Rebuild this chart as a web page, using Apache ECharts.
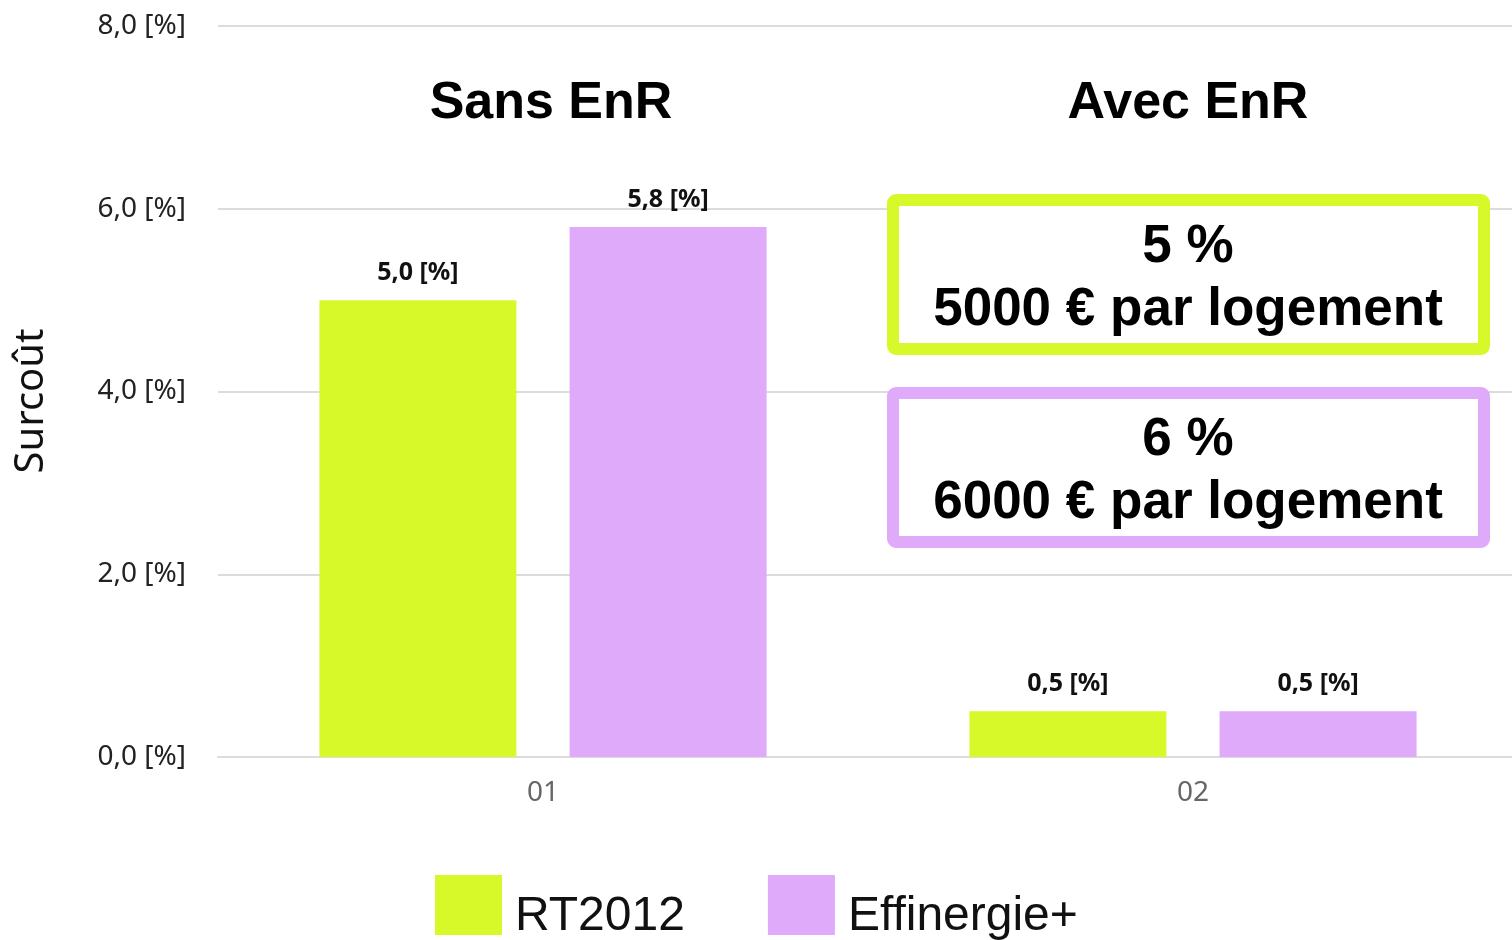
<!DOCTYPE html>
<html>
<head>
<meta charset="utf-8">
<title>Surcoût</title>
<script src="https://cdn.jsdelivr.net/npm/echarts@6/dist/echarts.min.js"></script>
<style>
  html, body { margin: 0; padding: 0; background: #fff; }
  #chart { width: 1512px; height: 940px; }
</style>
</head>
<body>
<div id="chart"></div>
<script>
const categories = ['01', '02']
const rt2012 = [5.0, 0.5]
const effinergie = [5.8, 0.5]
const yTicks = [0, 2, 4, 6, 8]
const groupTitles = ['Sans EnR', 'Avec EnR']
const boxLines = [
    ['5 %', '5000 € par logement'],
    ['6 %', '6000 € par logement']
]

const green = '#d7f92a'
const purple = '#dfaaf9'
const fmt = v => v.toFixed(1).replace('.', ',') + ' [%]'

const chart = echarts.init(document.getElementById('chart'))

const labelStyle = {
    show: true,
    position: 'top',
    distance: 15,
    fontFamily: 'Noto Sans',
    fontWeight: 'bold',
    fontSize: 25,
    color: '#111',
    formatter: p => fmt(p.value)
}

const boxes = boxLines.map((lines, i) => {
    const y = 200 + i * 193
    const col = i === 0 ? green : purple
    return [
        {
            type: 'rect',
            shape: { x: 893, y: y, width: 591, height: 149, r: 3 },
            style: { fill: '#fff', stroke: col, lineWidth: 12 },
            z: 100
        },
        {
            type: 'text',
            x: 1188, y: y + 47,
            style: {
                text: lines[0], fontFamily: 'Liberation Sans', fontWeight: 'bold',
                fontSize: 53, fill: '#000', align: 'center', verticalAlign: 'middle'
            },
            z: 101
        },
        {
            type: 'text',
            x: 1188, y: y + 110,
            style: {
                text: lines[1], fontFamily: 'Liberation Sans', fontWeight: 'bold',
                fontSize: 53, fill: '#000', align: 'center', verticalAlign: 'middle'
            },
            z: 101
        }
    ]
}).flat()

const titles = groupTitles.map((t, i) => ({
    type: 'text',
    x: i === 0 ? 551 : 1188,
    y: 104,
    style: {
        text: t, fontFamily: 'Liberation Sans', fontWeight: 'bold',
        fontSize: 52, fill: '#000', align: 'center', verticalAlign: 'middle'
    }
}))

// y axis name, drawn by hand so it sits where the original had it
const yName = {
    type: 'text',
    x: 32,
    y: 401,
    rotation: Math.PI / 2,
    style: {
        text: 'Surcoût', fontFamily: 'Noto Sans', fontSize: 40, fill: '#111',
        align: 'center', verticalAlign: 'middle'
    }
}

const option = {
    animation: false,
    grid: { left: 218, top: 26, width: 1300, height: 731, outerBoundsMode: 'none' },
    legend: {
        left: 435,
        top: 875,
        padding: 0,
        itemWidth: 67,
        itemHeight: 60,
        itemGap: 83,
        icon: 'rect',
        // spacer token pushes the name down a bit, like in the original
        formatter: name => '{s|}{t|' + name + '}',
        textStyle: {
            rich: {
                s: { width: 0, height: 71 },
                t: {
                    fontFamily: 'Liberation Sans',
                    fontSize: 48,
                    color: '#111',
                    padding: [0, 0, 0, 8],
                    verticalAlign: 'bottom'
                }
            }
        },
        data: ['RT2012', 'Effinergie+']
    },
    xAxis: {
        type: 'category',
        data: categories,
        axisLine: { lineStyle: { color: '#dcdcdc', width: 2 } },
        axisTick: { show: false },
        axisLabel: {
            margin: 22,
            fontFamily: 'Noto Sans',
            fontSize: 28,
            color: '#666'
        }
    },
    yAxis: {
        type: 'value',
        min: yTicks[0],
        max: yTicks[yTicks.length - 1],
        interval: 2,
        axisLine: { show: false },
        axisTick: { show: false },
        splitLine: { lineStyle: { color: '#dcdcdc', width: 2 } },
        axisLabel: {
            margin: 32,
            fontFamily: 'Noto Sans',
            fontSize: 28,
            color: '#222',
            formatter: v => fmt(v)
        }
    },
    series: [
        {
            name: 'RT2012',
            type: 'bar',
            data: rt2012,
            barWidth: 197,
            barGap: '27%',
            itemStyle: { color: green },
            label: labelStyle
        },
        {
            name: 'Effinergie+',
            type: 'bar',
            data: effinergie,
            barWidth: 197,
            itemStyle: { color: purple },
            label: labelStyle
        }
    ],
    graphic: titles.concat(boxes, [yName])
}

chart.setOption(option)
</script>
</body>
</html>
